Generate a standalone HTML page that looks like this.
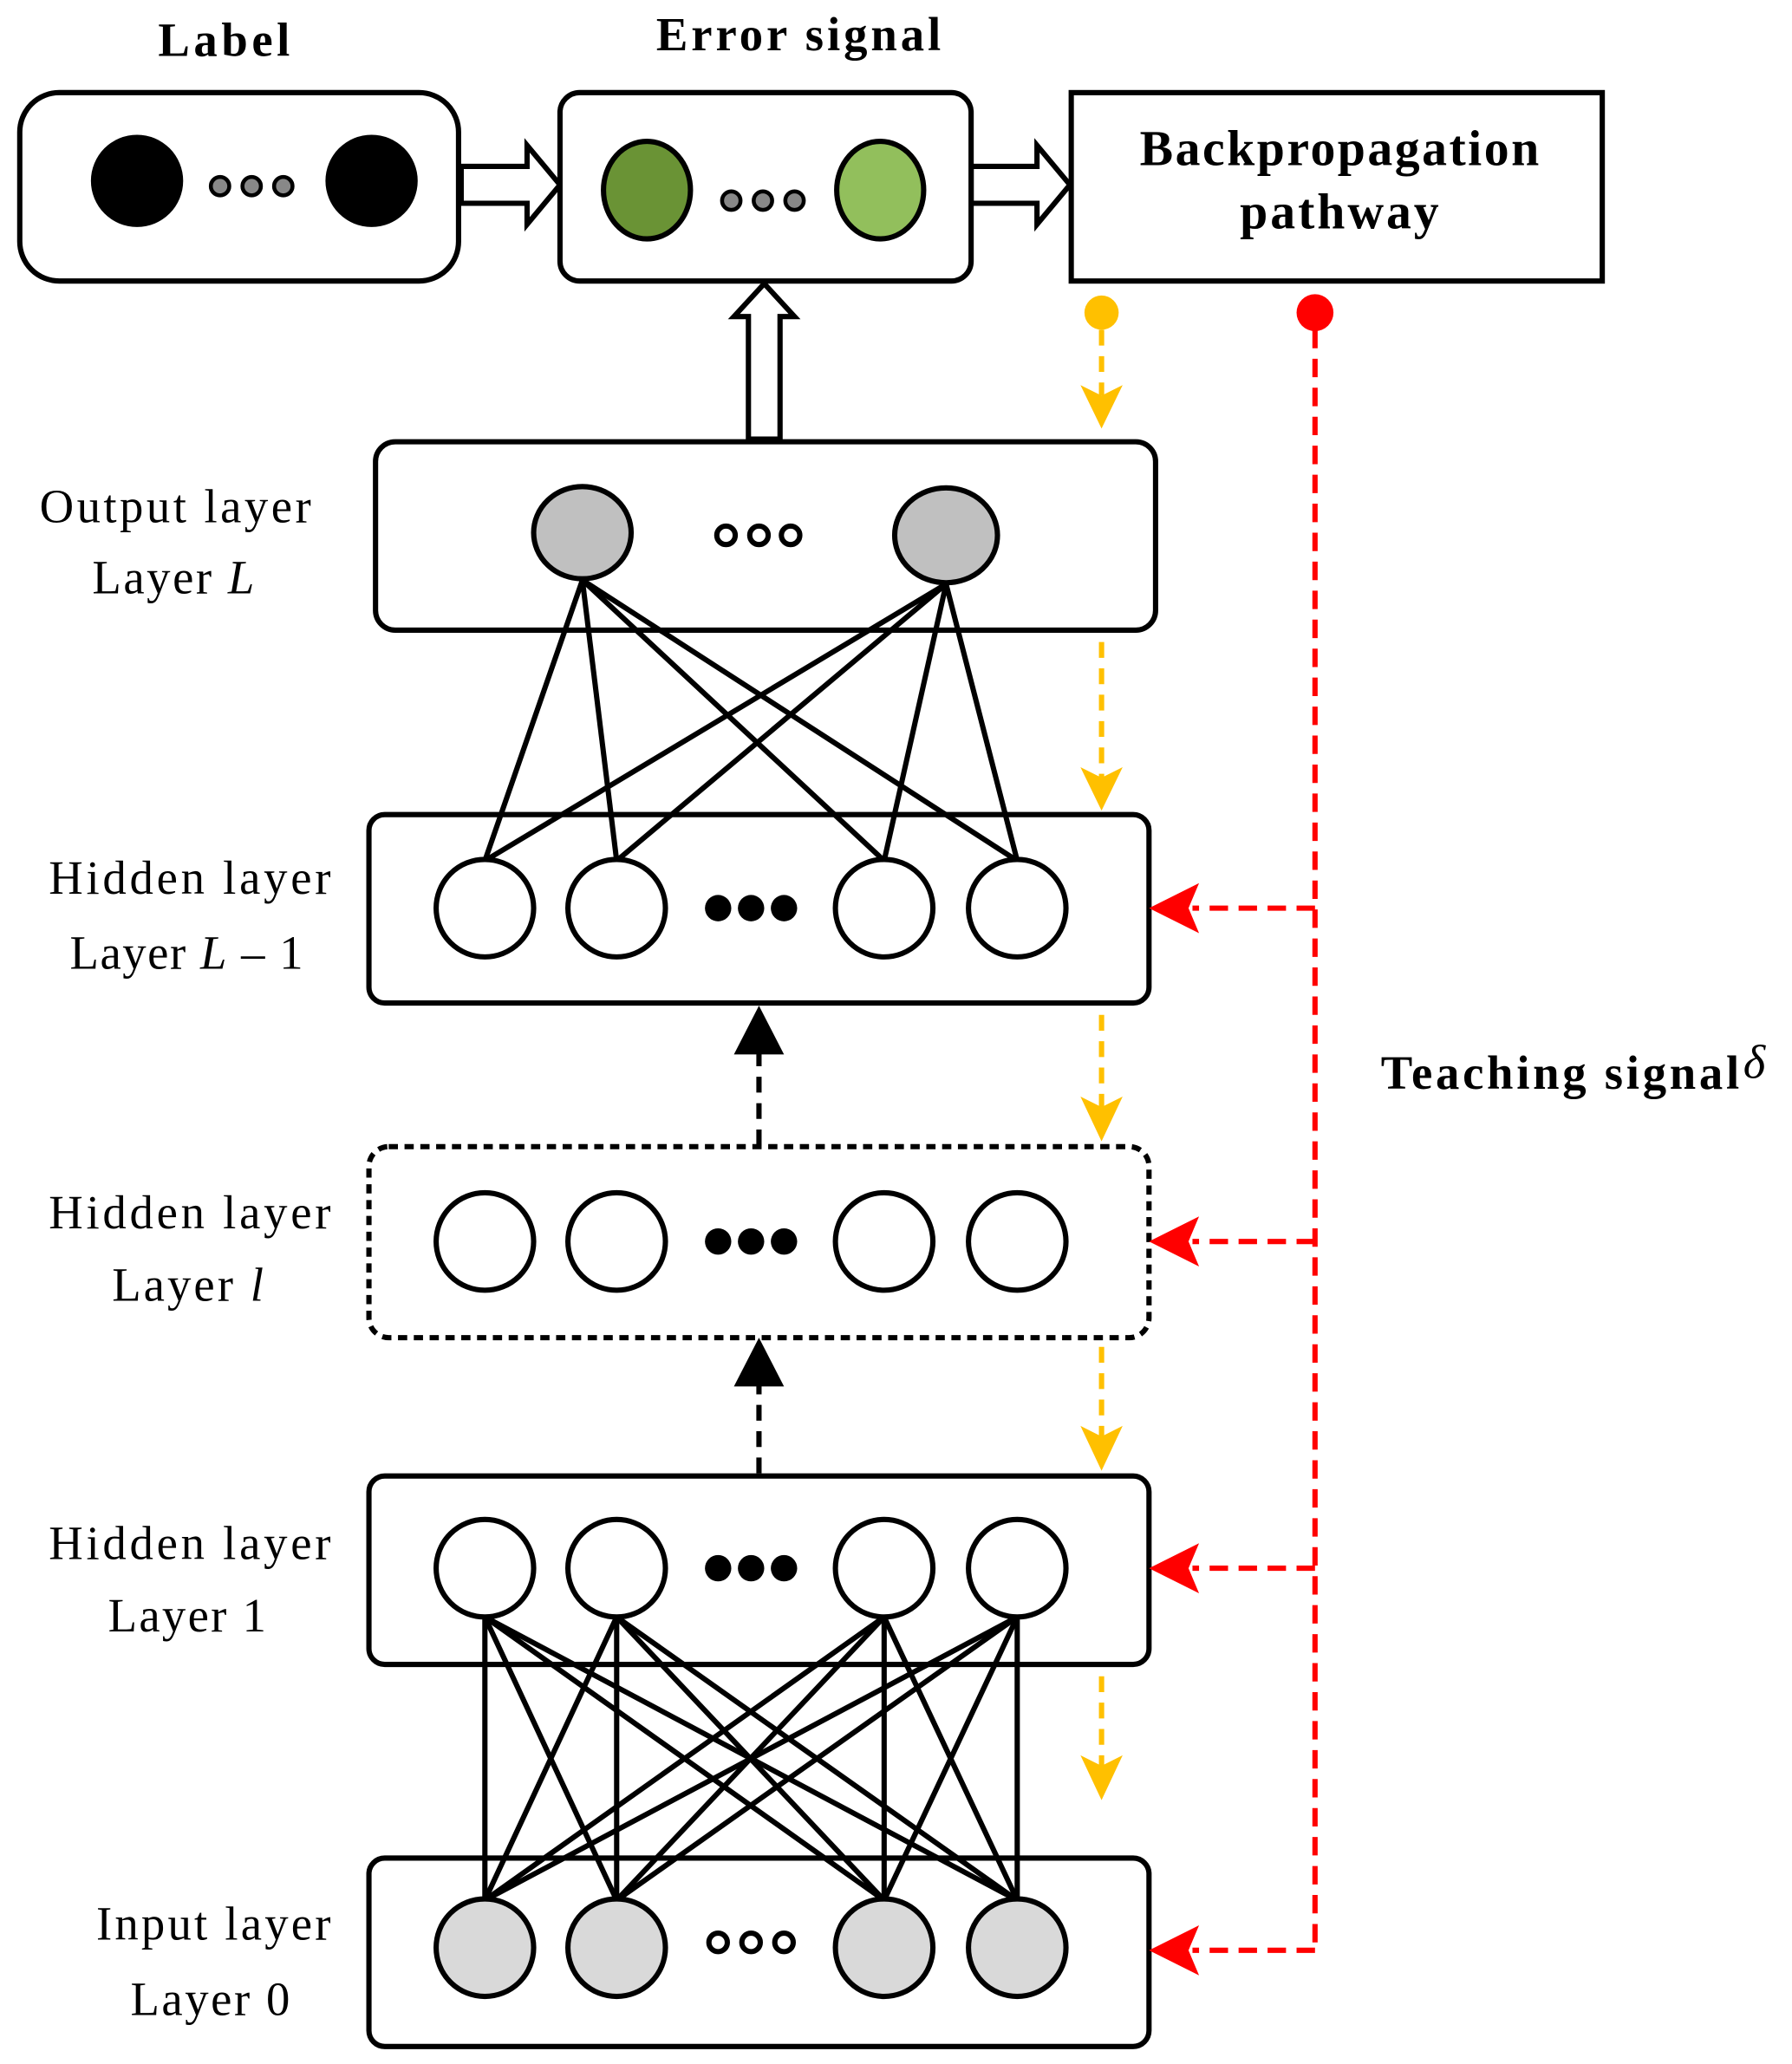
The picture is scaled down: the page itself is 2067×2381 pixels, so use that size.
<!DOCTYPE html>
<html><head><meta charset="utf-8"><style>
html,body{margin:0;padding:0;background:#fff;}
svg{display:block;}
text{font-family:"Liberation Serif",serif;fill:#000;}
.b{font-weight:bold;}
</style></head><body>
<svg width="2067" height="2381" viewBox="0 0 1360 1566" xmlns="http://www.w3.org/2000/svg">
<!-- Top labels -->
<text x="120" y="42" font-size="36" class="b" textLength="100" lengthAdjust="spacing">Label</text>
<text x="498" y="38" font-size="36" class="b" textLength="216" lengthAdjust="spacing">Error signal</text>
<!-- Label box -->
<rect x="15" y="70" width="333" height="143" rx="30" fill="#fff" stroke="#000" stroke-width="4"/>
<ellipse cx="104" cy="137" rx="35" ry="35" fill="#000"/>
<ellipse cx="282" cy="137" rx="35" ry="35" fill="#000"/>
<g fill="#888" stroke="#000" stroke-width="3"><circle cx="167" cy="141" r="7"/><circle cx="191" cy="141" r="7"/><circle cx="215" cy="141" r="7"/></g>
<!-- hollow arrows -->
<path d="M350 126 H400 V110 L425 140 L400 170 V154 H350 Z" fill="#fff" stroke="#000" stroke-width="4"/>
<path d="M737 126 H787 V110 L812 140 L787 170 V154 H737 Z" fill="#fff" stroke="#000" stroke-width="4"/>
<!-- Error box -->
<rect x="425" y="70" width="312" height="143" rx="15" fill="#fff" stroke="#000" stroke-width="4"/>
<ellipse cx="491" cy="144" rx="33" ry="37" fill="#6a9335" stroke="#000" stroke-width="4"/>
<ellipse cx="668" cy="144" rx="33" ry="37" fill="#92bf5c" stroke="#000" stroke-width="4"/>
<g fill="#888" stroke="#000" stroke-width="3"><circle cx="555" cy="152" r="7"/><circle cx="579" cy="152" r="7"/><circle cx="603" cy="152" r="7"/></g>
<!-- Backprop box -->
<rect x="813" y="70" width="403" height="143" fill="#fff" stroke="#000" stroke-width="4"/>
<text x="865" y="125" font-size="38" class="b" textLength="303" lengthAdjust="spacing">Backpropagation</text>
<text x="941" y="173" font-size="38" class="b" textLength="151" lengthAdjust="spacing">pathway</text>
<!-- up hollow arrow -->
<path d="M568 333 V240 H557 L580 215 L603 240 H592 V333 Z" fill="#fff" stroke="#000" stroke-width="4"/>
<!-- connections output-hidden L-1 -->
<g stroke="#000" stroke-width="4">
<line x1="442" y1="440" x2="368" y2="653"/><line x1="442" y1="440" x2="468" y2="653"/><line x1="442" y1="440" x2="671" y2="653"/><line x1="442" y1="440" x2="772" y2="653"/>
<line x1="718" y1="443" x2="368" y2="653"/><line x1="718" y1="443" x2="468" y2="653"/><line x1="718" y1="443" x2="671" y2="653"/><line x1="718" y1="443" x2="772" y2="653"/>
</g>
<!-- connections layer1-input -->
<g stroke="#000" stroke-width="4">
<line x1="368" y1="1227" x2="368" y2="1442"/><line x1="368" y1="1227" x2="468" y2="1442"/><line x1="368" y1="1227" x2="671" y2="1442"/><line x1="368" y1="1227" x2="772" y2="1442"/>
<line x1="468" y1="1227" x2="368" y2="1442"/><line x1="468" y1="1227" x2="468" y2="1442"/><line x1="468" y1="1227" x2="671" y2="1442"/><line x1="468" y1="1227" x2="772" y2="1442"/>
<line x1="671" y1="1227" x2="368" y2="1442"/><line x1="671" y1="1227" x2="468" y2="1442"/><line x1="671" y1="1227" x2="671" y2="1442"/><line x1="671" y1="1227" x2="772" y2="1442"/>
<line x1="772" y1="1227" x2="368" y2="1442"/><line x1="772" y1="1227" x2="468" y2="1442"/><line x1="772" y1="1227" x2="671" y2="1442"/><line x1="772" y1="1227" x2="772" y2="1442"/>
</g>
<!-- Output box -->
<rect x="285" y="335" width="592" height="143" rx="15" fill="none" stroke="#000" stroke-width="4"/>
<ellipse cx="442" cy="404" rx="37" ry="35" fill="#c0c0c0" stroke="#000" stroke-width="4"/>
<ellipse cx="718" cy="406" rx="39" ry="36" fill="#c0c0c0" stroke="#000" stroke-width="4"/>
<g fill="#fff" stroke="#000" stroke-width="4"><circle cx="551" cy="406" r="7"/><circle cx="576" cy="406" r="7"/><circle cx="600" cy="406" r="7"/></g>
<!-- Hidden L-1 -->
<rect x="280" y="618" width="592" height="143" rx="12" fill="none" stroke="#000" stroke-width="4"/>
<g fill="#fff" stroke="#000" stroke-width="4"><circle cx="368" cy="689" r="37"/><circle cx="468" cy="689" r="37"/><circle cx="671" cy="689" r="37"/><circle cx="772" cy="689" r="37"/></g>
<g fill="#000"><circle cx="545" cy="689" r="10"/><circle cx="570" cy="689" r="10"/><circle cx="595" cy="689" r="10"/></g>
<!-- Hidden l (dashed) -->
<rect x="280" y="870" width="592" height="145" rx="15" fill="none" stroke="#000" stroke-width="4" stroke-dasharray="7,5"/>
<g fill="#fff" stroke="#000" stroke-width="4"><circle cx="368" cy="942" r="37"/><circle cx="468" cy="942" r="37"/><circle cx="671" cy="942" r="37"/><circle cx="772" cy="942" r="37"/></g>
<g fill="#000"><circle cx="545" cy="942" r="10"/><circle cx="570" cy="942" r="10"/><circle cx="595" cy="942" r="10"/></g>
<!-- Hidden 1 -->
<rect x="280" y="1120" width="592" height="143" rx="12" fill="none" stroke="#000" stroke-width="4"/>
<g fill="#fff" stroke="#000" stroke-width="4"><circle cx="368" cy="1190" r="37"/><circle cx="468" cy="1190" r="37"/><circle cx="671" cy="1190" r="37"/><circle cx="772" cy="1190" r="37"/></g>
<g fill="#000"><circle cx="545" cy="1190" r="10"/><circle cx="570" cy="1190" r="10"/><circle cx="595" cy="1190" r="10"/></g>
<!-- Input -->
<rect x="280" y="1410" width="592" height="143" rx="12" fill="none" stroke="#000" stroke-width="4"/>
<g fill="#d9d9d9" stroke="#000" stroke-width="4"><circle cx="368" cy="1478" r="37"/><circle cx="468" cy="1478" r="37"/><circle cx="671" cy="1478" r="37"/><circle cx="772" cy="1478" r="37"/></g>
<g fill="#fff" stroke="#000" stroke-width="4"><circle cx="545" cy="1474" r="7"/><circle cx="570" cy="1474" r="7"/><circle cx="595" cy="1474" r="7"/></g>
<!-- black dashed up arrows -->
<g stroke="#000" stroke-width="4" stroke-dasharray="12,8"><line x1="576" y1="869" x2="576" y2="798"/><line x1="576" y1="1118" x2="576" y2="1050"/></g>
<path d="M557 800 L576 763 L595 800 Z" fill="#000"/>
<path d="M557 1052 L576 1015 L595 1052 Z" fill="#000"/>
<!-- yellow dashed arrows -->
<circle cx="836" cy="237" r="13" fill="#ffc000"/>
<g stroke="#ffc000" stroke-width="4" stroke-dasharray="12,8">
<line x1="836" y1="250" x2="836" y2="300"/>
<line x1="836" y1="487" x2="836" y2="590"/>
<line x1="836" y1="770" x2="836" y2="840"/>
<line x1="836" y1="1022" x2="836" y2="1090"/>
<line x1="836" y1="1272" x2="836" y2="1340"/>
</g>
<g fill="#ffc000">
<path d="M820 292 L836 325 L852 292 L836 300 Z"/>
<path d="M820 582 L836 615 L852 582 L836 590 Z"/>
<path d="M820 832 L836 866 L852 832 L836 840 Z"/>
<path d="M820 1082 L836 1116 L852 1082 L836 1090 Z"/>
<path d="M820 1332 L836 1366 L852 1332 L836 1340 Z"/>
</g>
<!-- red dashed -->
<circle cx="998" cy="237" r="14" fill="#ff0000"/>
<g stroke="#ff0000" stroke-width="4" stroke-dasharray="14,8">
<line x1="998" y1="250" x2="998" y2="1480"/>
<line x1="998" y1="689" x2="905" y2="689"/>
<line x1="998" y1="942" x2="905" y2="942"/>
<line x1="998" y1="1190" x2="905" y2="1190"/>
<line x1="998" y1="1480" x2="905" y2="1480"/>
</g>
<g fill="#ff0000">
<path d="M910 670 L872 689 L910 708 L902 689 Z"/>
<path d="M910 923 L872 942 L910 961 L902 942 Z"/>
<path d="M910 1171 L872 1190 L910 1209 L902 1190 Z"/>
<path d="M910 1461 L872 1480 L910 1499 L902 1480 Z"/>
</g>
<text x="1048" y="826" font-size="36" class="b" textLength="272" lengthAdjust="spacing">Teaching signal</text>
<text x="1323" y="818" font-size="36" font-style="italic">δ</text>
<!-- Left labels -->
<g font-size="36">
<text x="30" y="396" textLength="206" lengthAdjust="spacing">Output layer</text>
<text x="70" y="450" textLength="123" lengthAdjust="spacing">Layer <tspan font-style="italic">L</tspan></text>
<text x="37" y="678" textLength="214" lengthAdjust="spacing">Hidden layer</text>
<text x="53" y="735" textLength="177" lengthAdjust="spacing">Layer <tspan font-style="italic">L</tspan> – 1</text>
<text x="37" y="932" textLength="214" lengthAdjust="spacing">Hidden layer</text>
<text x="85" y="987" textLength="115" lengthAdjust="spacing">Layer <tspan font-style="italic">l</tspan></text>
<text x="37" y="1183" textLength="214" lengthAdjust="spacing">Hidden layer</text>
<text x="82" y="1238" textLength="120" lengthAdjust="spacing">Layer 1</text>
<text x="73" y="1472" textLength="178" lengthAdjust="spacing">Input layer</text>
<text x="99" y="1529" textLength="121" lengthAdjust="spacing">Layer 0</text>
</g>
</svg>
</body></html>
